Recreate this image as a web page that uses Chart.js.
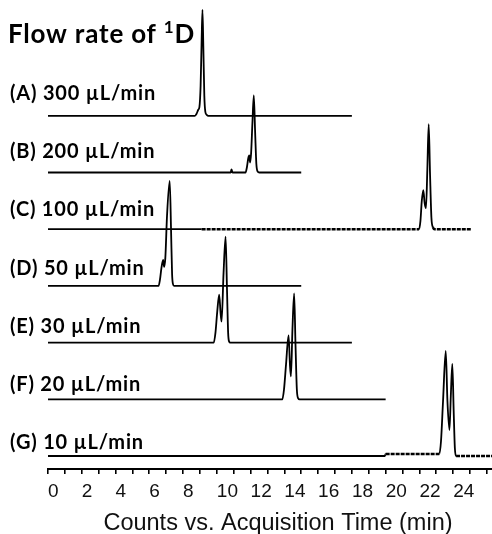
<!DOCTYPE html>
<html>
<head>
<meta charset="utf-8">
<script src="https://cdn.jsdelivr.net/npm/chart.js@4.4.1/dist/chart.umd.min.js"></script>
<style>
  html, body { margin: 0; padding: 0; background: #fff; }
  #wrap { width: 492px; height: 534px; position: relative; }
</style>
</head>
<body>
<div id="wrap"><canvas id="chrom"></canvas></div>
<script>
// 1D flow rate for each run, top to bottom
const flowLabels = ['(A) 300 µL/min', '(B) 200 µL/min', '(C) 100 µL/min', '(D) 50 µL/min',
                    '(E) 30 µL/min', '(F) 20 µL/min', '(G) 10 µL/min'];

// acquisition time (min) and counts for each trace
const timeA = [0, 8.70, 8.80, 8.90, 8.97, 9.04, 9.10, 9.15, 9.20, 9.26, 9.32, 9.40, 9.50, 18.0];
const sigA  = [0, 0, 2, 6, 9, 30, 75, 106, 70, 20, 4, 1, 0, 0];

const timeB = [0, 10.82, 10.87, 10.93, 11.70, 11.78, 11.86, 11.92, 11.97, 12.03, 12.11, 12.19, 12.27, 12.34, 12.42, 12.52, 15.0];
const sigB  = [0, 0, 3, 0, 0, 5, 14, 17, 10, 19, 50, 77, 40, 9, 1, 0, 0];

const timeC = [0, 9.1, 21.98, 22.06, 22.14, 22.23, 22.31, 22.39, 22.47, 22.55, 22.63, 22.71, 22.80, 22.90, 25.1];
const sigC  = [0, 0, 0, 8, 28, 39, 26, 21, 60, 105, 55, 12, 2, 0, 0];

const timeD = [0, 6.55, 6.63, 6.72, 6.82, 6.88, 6.95, 7.05, 7.21, 7.29, 7.35, 7.40, 7.47, 15.0];
const sigD  = [0, 0, 6, 18, 26, 19, 28, 70, 105, 55, 12, 2, 0, 0];

const timeE = [0, 9.82, 9.92, 10.02, 10.14, 10.22, 10.28, 10.40, 10.52, 10.60, 10.67, 10.73, 10.80, 18.0];
const sigE  = [0, 0, 10, 30, 48, 30, 21, 70, 106, 55, 10, 1, 0, 0];

const timeF = [0, 13.88, 13.98, 14.10, 14.25, 14.33, 14.39, 14.48, 14.58, 14.66, 14.74, 14.82, 14.90, 20.0];
const sigF  = [0, 0, 10, 35, 64, 35, 23, 70, 106, 55, 10, 1, 0, 0];

const timeG = [0, 19.95, 20.0, 23.18, 23.28, 23.40, 23.56, 23.66, 23.78, 23.86, 23.95, 24.03, 24.10, 24.17, 26.4];
const sigG  = [0, 0, 2, 2, 15, 55, 105, 55, 26, 60, 92, 45, 8, 0, 0];

// time where the detector trace turns noisy (runs C and G)
const noisyFromC = 9.1;
const noisyFromG = 20.0;

// x axis ticks every minute, labelled every two up to 24
const timeTicks = [0, 1, 2, 3, 4, 5, 6, 7, 8, 9, 10, 11, 12, 13, 14, 15, 16, 17, 18, 19, 20, 21, 22, 23, 24, 25, 26];
const timeTickLabels = ['0', '', '2', '', '4', '', '6', '', '8', '', '10', '', '12', '', '14', '',
                        '16', '', '18', '', '20', '', '22', '', '24', '', ''];
const xTitle = 'Counts vs. Acquisition Time (min)';

const runs = [
  [timeA, sigA, null], [timeB, sigB, null], [timeC, sigC, noisyFromC], [timeD, sigD, null],
  [timeE, sigE, null], [timeF, sigF, null], [timeG, sigG, noisyFromG]
];

// traces are stacked, G at the bottom
const STACK_BASE = 13;
const STACK_STEP = 56.7;
const stackOffset = i => STACK_BASE + (runs.length - 1 - i) * STACK_STEP;

const isNoisy = (ctx, noisyFrom) =>
  noisyFrom !== null && ctx.p0.parsed.x >= noisyFrom && Math.abs(ctx.p1.parsed.y - ctx.p0.parsed.y) < 4;

const datasets = runs.map(([t, s, noisyFrom], i) => ({
  label: flowLabels[i],
  data: t.map((x, k) => ({ x: x, y: s[k] + stackOffset(i) })),
  borderColor: '#000',
  borderWidth: 1.8,
  pointRadius: 0,
  cubicInterpolationMode: 'monotone',
  segment: {
    borderDash: ctx => isNoisy(ctx, noisyFrom) ? [4, 1] : undefined,
    borderWidth: ctx => isNoisy(ctx, noisyFrom) ? 2.5 : undefined
  }
}));

// run labels, panel heading and axis title
const runLabels = {
  id: 'runLabels',
  afterDatasetsDraw(chart) {
    const ctx = chart.ctx;
    const area = chart.chartArea;
    ctx.save();
    ctx.fillStyle = '#000';
    ctx.textBaseline = 'alphabetic';
    ctx.textAlign = 'left';

    // heading: Flow rate of 1D with superscript 1
    ctx.letterSpacing = '0.8px';
    ctx.font = 'bold 26px Lato';
    const head = 'Flow rate of ';
    ctx.fillText(head, 8, 43);
    let x = 8 + ctx.measureText(head).width;
    ctx.font = 'bold 17px Lato';
    ctx.fillText('1', x, 33);
    x += ctx.measureText('1').width;
    ctx.font = 'bold 26px Lato';
    ctx.fillText('D', x, 43);

    ctx.font = 'bold 20px Lato';
    flowLabels.forEach((txt, i) => {
      ctx.fillText(txt, 10, 100 + i * 58.2);
    });

    ctx.letterSpacing = '0px';
    ctx.fillStyle = '#111';
    ctx.textAlign = 'center';
    ctx.font = '23.5px "Liberation Sans"';
    ctx.fillText(xTitle, (area.left + area.right) / 2 + 8, 530);
    ctx.restore();
  }
};

new Chart(document.getElementById('chrom'), {
  type: 'line',
  data: { datasets },
  options: {
    responsive: true,
    maintainAspectRatio: false,
    animation: false,
    layout: { padding: { left: 48, right: 0, top: 0, bottom: 0 } },
    plugins: { legend: { display: false }, tooltip: { enabled: false } },
    scales: {
      x: {
        type: 'linear',
        min: 0,
        max: 26.3,
        afterBuildTicks: scale => { scale.ticks = timeTicks.map(v => ({ value: v })); },
        afterFit: scale => { scale.height = 65; scale.paddingLeft = 0; scale.paddingRight = 0; },
        border: { display: true, color: '#000', width: 2 },
        grid: { display: true, drawOnChartArea: false, drawTicks: true, tickLength: 5, color: '#000', lineWidth: 1.6 },
        ticks: {
          autoSkip: false,
          maxRotation: 0,
          align: 'start',
          padding: 6,
          color: '#111',
          font: { family: 'Liberation Sans', size: 19 },
          callback: (v, idx) => timeTickLabels[idx]
        }
      },
      y: { display: false, min: 0, max: 469 }
    }
  },
  plugins: [runLabels]
});
</script>
</body>
</html>
